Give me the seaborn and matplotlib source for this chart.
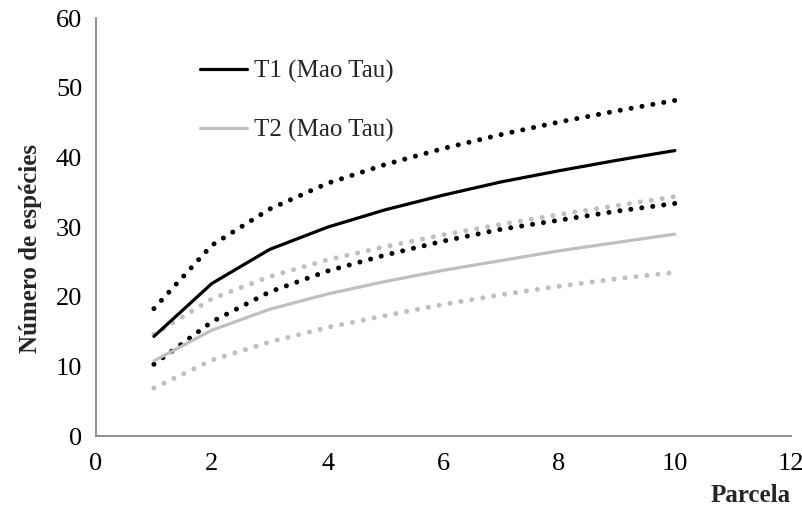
import numpy as np
import pandas as pd
import matplotlib
matplotlib.use("Agg")
import matplotlib.pyplot as plt
import seaborn as sns

# Data
parcela = [1, 2, 3, 4, 5, 6, 7, 8, 9, 10]
t1_mean = [14.3, 21.9, 26.8, 30.0, 32.5, 34.6, 36.5, 38.1, 39.6, 41.0]
t1_upper = [18.3, 27.4, 32.6, 36.3, 39.0, 41.3, 43.3, 45.1, 46.7, 48.2]
t1_lower = [10.3, 16.4, 20.7, 23.7, 26.0, 28.0, 29.7, 31.0, 32.3, 33.4]
t2_mean = [10.8, 15.2, 18.2, 20.4, 22.2, 23.8, 25.2, 26.6, 27.8, 29.0]
t2_upper = [14.6, 19.7, 22.9, 25.3, 27.2, 28.9, 30.4, 31.8, 33.1, 34.4]
t2_lower = [6.9, 10.9, 13.5, 15.6, 17.3, 18.9, 20.3, 21.5, 22.6, 23.5]

sns.set_style("white")
plt.rcParams['font.family'] = ['Liberation Serif', 'DejaVu Serif']

fig = plt.figure(figsize=(8.03, 5.07), dpi=100)
ax = fig.add_axes([0.1196, 0.140, 0.865, 0.824])

black = "#000000"
gray = "#bfbfbf"
dots = dict(linestyle=(0, (0.01, 2.2)), dash_capstyle="round", linewidth=3.6)

sns.lineplot(x=parcela, y=t1_upper, color=black, ax=ax, **dots)
sns.lineplot(x=parcela, y=t1_lower, color=black, ax=ax, **dots)
sns.lineplot(x=parcela, y=t2_upper, color=gray, ax=ax, **dots)
sns.lineplot(x=parcela, y=t2_lower, color=gray, ax=ax, **dots)
l1, = ax.plot(parcela, t1_mean, color=black, linewidth=2.3, label="T1 (Mao Tau)")
l2, = ax.plot(parcela, t2_mean, color=gray, linewidth=2.3, label="T2 (Mao Tau)")

ax.set_xlim(0, 12)
ax.set_ylim(0, 60)
ax.set_xticks(range(0, 13, 2))
ax.set_yticks(range(0, 61, 10))

for s in ["top", "right"]:
    ax.spines[s].set_visible(False)
for s in ["left", "bottom"]:
    ax.spines[s].set_color("#868686")
    ax.spines[s].set_linewidth(1.3)
ax.tick_params(axis="both", direction="out", length=5, width=1.3,
               color="#868686", labelsize=19, labelcolor="black", pad=5)
ax.tick_params(axis="x", pad=7)

ax.set_ylabel("Número de espécies", fontsize=18, fontweight="bold")
ax.yaxis.set_label_coords(-0.078, 0.45)
ax.set_xlabel("Parcela", fontsize=18, fontweight="bold")
ax.xaxis.set_label_coords(1.0, -0.115)
ax.xaxis.label.set_horizontalalignment("right")

leg = ax.legend(handles=[l1, l2], loc="upper left", bbox_to_anchor=(0.135, 0.925),
                frameon=False, fontsize=18, handlelength=1.9, handletextpad=0.25,
                labelspacing=1.45, borderaxespad=0)

fig.savefig("out.png", dpi=100)
